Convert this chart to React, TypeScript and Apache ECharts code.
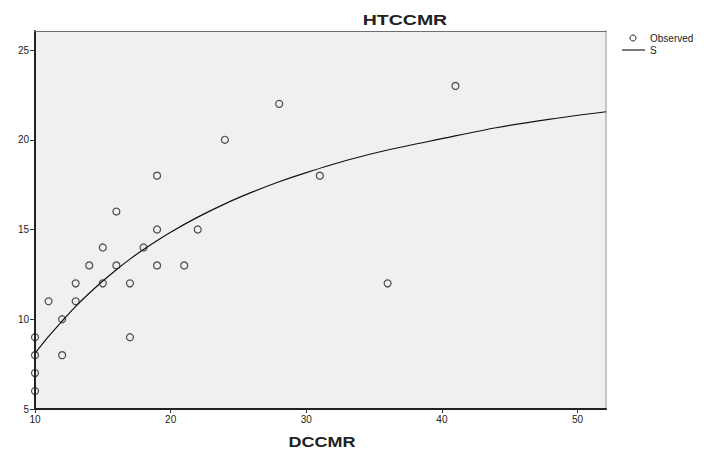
import React, { useEffect, useRef } from "react";
import * as echarts from "echarts";

const xTicks = [10, 20, 30, 40, 50];
const yTicks = [5, 10, 15, 20, 25];

const obsX = [10, 10, 10, 10, 11, 12, 12, 13, 13, 14, 15, 15, 16, 16, 17, 17, 18, 19, 19, 19, 21, 22, 24, 28, 31, 36, 41];
const obsY = [9, 8, 7, 6, 11, 8, 10, 12, 11, 13, 14, 12, 16, 13, 12, 9, 14, 18, 15, 13, 13, 15, 20, 22, 18, 12, 23];

const fitX = [10, 11, 12, 13, 14, 15, 16, 17, 18, 20, 22, 24, 26, 28, 30, 33, 36, 40, 44, 48, 52.1];
const fitY = [8.1, 9.04, 9.9, 10.72, 11.45, 12.13, 12.76, 13.35, 13.89, 14.85, 15.69, 16.43, 17.08, 17.66, 18.17, 18.86, 19.43, 20.06, 20.67, 21.15, 21.56];

const FONT = "Liberation Sans";

export default function App() {
  const ref = useRef<HTMLDivElement>(null);
  useEffect(() => {
    document.body.style.margin = "0";
    const chart = echarts.init(ref.current!, null, { renderer: "svg" });
    const labelStyle = { fontSize: 10, color: "#222", fontFamily: FONT };
    chart.setOption({
      animation: false,
      backgroundColor: "#ffffff",
      grid: {
        left: 35,
        top: 31,
        width: 571,
        height: 378,
        show: true,
        backgroundColor: "#f0f0f0",
        borderWidth: 0,
      },
      xAxis: [
        {
          type: "value",
          min: 10,
          max: 52.1,
          interval: 10,
          position: "bottom",
          axisLine: { show: true, lineStyle: { color: "#222", width: 2 } },
          axisTick: { show: true, length: 4, customValues: xTicks, lineStyle: { color: "#333", width: 1 } },
          axisLabel: { ...labelStyle, margin: 5, customValues: xTicks },
          splitLine: { show: false },
        },
        {
          type: "value",
          min: 10,
          max: 52.1,
          position: "top",
          axisLine: { show: true, lineStyle: { color: "#6e6e6e", width: 1 } },
          axisTick: { show: false },
          axisLabel: { show: false },
          splitLine: { show: false },
        },
      ],
      yAxis: [
        {
          type: "value",
          min: 5,
          max: 26.06,
          interval: 5,
          position: "left",
          axisLine: { show: true, lineStyle: { color: "#222", width: 2 } },
          axisTick: { show: true, length: 5, customValues: yTicks, lineStyle: { color: "#333", width: 1 } },
          axisLabel: { ...labelStyle, margin: 6, customValues: yTicks },
          splitLine: { show: false },
        },
        {
          type: "value",
          min: 5,
          max: 26.06,
          position: "right",
          axisLine: { show: true, lineStyle: { color: "#c4c4c4", width: 2 } },
          axisTick: { show: false },
          axisLabel: { show: false },
          splitLine: { show: false },
        },
      ],
      series: [
        {
          name: "Observed",
          type: "scatter",
          xAxisIndex: 0,
          yAxisIndex: 0,
          symbol: "circle",
          symbolSize: 7,
          itemStyle: { color: "rgba(0,0,0,0)", borderColor: "#222", borderWidth: 1.2 },
          data: obsX.map((x, i) => [x, obsY[i]]),
          z: 3,
        },
        {
          name: "S",
          type: "line",
          xAxisIndex: 0,
          yAxisIndex: 0,
          smooth: 0.3,
          showSymbol: false,
          lineStyle: { color: "#111", width: 1.2 },
          data: fitX.map((x, i) => [x, fitY[i]]),
          z: 2,
        },
      ],
      graphic: [
        {
          type: "text",
          x: 405,
          y: 20,
          scaleX: 1.3,
          style: {
            text: "HTCCMR",
            fontSize: 15,
            fontWeight: "bold",
            fontFamily: FONT,
            fill: "#222",
            align: "center",
            verticalAlign: "middle",
          },
        },
        {
          type: "text",
          x: 322,
          y: 442,
          scaleX: 1.2,
          style: {
            text: "DCCMR",
            fontSize: 15,
            fontWeight: "bold",
            fontFamily: FONT,
            fill: "#222",
            align: "center",
            verticalAlign: "middle",
          },
        },
        {
          type: "circle",
          shape: { cx: 633, cy: 38, r: 3 },
          style: { fill: "none", stroke: "#222", lineWidth: 1 },
        },
        {
          type: "text",
          x: 650,
          y: 38,
          style: {
            text: "Observed",
            fontSize: 10,
            fontFamily: FONT,
            fill: "#222",
            align: "left",
            verticalAlign: "middle",
          },
        },
        {
          type: "line",
          shape: { x1: 622, y1: 50, x2: 645, y2: 50 },
          style: { stroke: "#222", lineWidth: 1.2 },
        },
        {
          type: "text",
          x: 650,
          y: 50,
          style: {
            text: "S",
            fontSize: 10,
            fontFamily: FONT,
            fill: "#222",
            align: "left",
            verticalAlign: "middle",
          },
        },
      ],
    });
    return () => chart.dispose();
  }, []);
  return <div ref={ref} style={{ width: 716, height: 450 }} />;
}
